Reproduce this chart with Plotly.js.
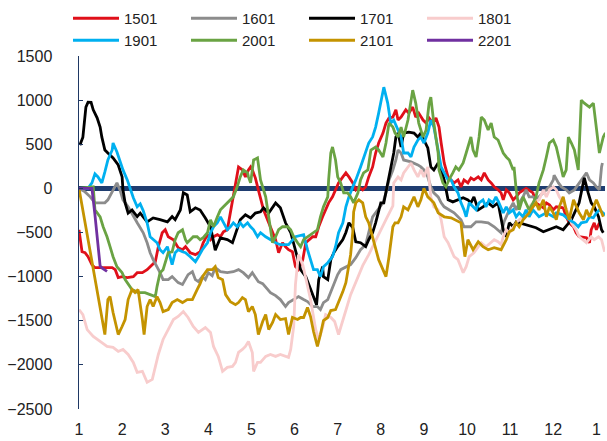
<!DOCTYPE html>
<html>
<head>
<meta charset="utf-8">
<script src="https://cdn.plot.ly/plotly-3.0.1.min.js"></script>
<style>html,body{margin:0;padding:0;background:#fff;}#chart{width:607px;height:441px;}</style>
</head>
<body>
<div id="chart"></div>
<script>
// Month positions (1 = Jan ... 13 = Jan of next year)
const tickVals = [1,2,3,4,5,6,7,8,9,10,11,12,13];
const tickText = ["1","2","3","4","5","6","7","8","9","10","11","12","1"];
const seriesNames = ["1501","1601","1701","1801","1901","2001","2101","2201"];

const x1501 = [1.00,1.02,1.07,1.14,1.21,1.30,1.37,1.49,1.60,1.77,1.84,1.91,2.00,2.12,2.26,2.35,2.47,2.58,2.65,2.77,2.84,2.93,3.00,3.07,3.19,3.30,3.40,3.47,3.58,3.70,3.81,3.88,3.98,4.05,4.12,4.21,4.28,4.35,4.44,4.51,4.58,4.67,4.70,4.79,4.86,4.93,4.98,5.02,5.09,5.16,5.28,5.40,5.49,5.56,5.63,5.72,5.79,5.86,5.95,6.02,6.09,6.19,6.26,6.42,6.49,6.56,6.65,6.72,6.79,6.88,6.95,7.02,7.12,7.19,7.26,7.35,7.42,7.49,7.58,7.65,7.72,7.81,7.88,7.95,8.05,8.12,8.19,8.28,8.35,8.40,8.47,8.58,8.65,8.74,8.81,8.88,8.98,9.05,9.12,9.21,9.28,9.35,9.40,9.47,9.56,9.63,9.70,9.79,9.86,9.93,10.02,10.09,10.16,10.26,10.33,10.40,10.49,10.56,10.63,10.72,10.79,10.84,10.91,10.98,11.07,11.14,11.21,11.37,11.53,11.60,11.77,11.84,11.91,12.00,12.07,12.23,12.30,12.37,12.47,12.53,12.60,12.77,12.84,12.88,12.95,13.00,13.07];
const y1501 = [-470,-548,-718,-729,-774,-864,-898,-898,-898,-898,-921,-1011,-1000,-1011,-1000,-955,-955,-921,-887,-831,-661,-503,-469,-548,-582,-672,-695,-661,-729,-751,-718,-616,-525,-582,-548,-525,-548,-492,-469,-277,-51,175,243,209,130,209,243,209,119,-17,-243,-390,-503,-582,-729,-616,-661,-695,-718,-887,-921,-808,-616,-548,-548,-435,-322,-243,-164,-96,-17,62,130,175,130,62,-17,17,-17,17,130,243,401,514,627,740,797,808,890,774,808,890,853,921,808,853,774,740,797,740,797,695,514,288,130,96,62,96,17,96,62,119,96,130,96,175,96,62,17,-17,-51,-130,-17,-51,-130,-96,-51,0,-51,-164,-220,-164,-186,-243,-209,-220,-322,-390,-435,-503,-548,-559,-616,-469,-390,-469,-390];

const x1601 = [1.00,1.14,1.26,1.37,1.49,1.60,1.67,1.79,1.88,1.95,2.02,2.14,2.26,2.35,2.42,2.49,2.58,2.65,2.72,2.81,2.88,2.95,3.07,3.16,3.23,3.30,3.40,3.47,3.53,3.63,3.70,3.77,3.86,3.93,4.00,4.09,4.16,4.28,4.44,4.58,4.70,4.81,4.93,5.02,5.09,5.16,5.26,5.33,5.44,5.56,5.67,5.79,5.86,5.98,6.09,6.21,6.30,6.42,6.53,6.60,6.67,6.77,6.84,6.91,7.00,7.07,7.19,7.30,7.42,7.53,7.65,7.72,7.81,7.93,8.05,8.12,8.19,8.28,8.35,8.40,8.47,8.53,8.70,8.86,8.93,9.00,9.09,9.16,9.23,9.33,9.40,9.47,9.58,9.70,9.86,9.93,10.09,10.21,10.33,10.49,10.63,10.72,10.79,10.86,10.91,10.98,11.07,11.14,11.21,11.30,11.37,11.44,11.53,11.60,11.67,11.77,11.84,11.91,12.00,12.02,12.12,12.19,12.30,12.37,12.49,12.60,12.70,12.77,12.84,12.93,13.00,13.07,13.12,13.14];
const y1601 = [0,-40,-96,-164,-164,-164,-130,-17,62,-17,-130,-209,-322,-390,-446,-503,-616,-729,-808,-887,-955,-1034,-1034,-1000,-1034,-1068,-1090,-1034,-977,-944,-1034,-1057,-1000,-1034,-955,-990,-898,-944,-955,-944,-921,-955,-1011,-955,-1011,-1057,-1080,-1124,-1181,-1215,-1260,-1339,-1294,-1260,-1226,-1260,-1283,-1339,-1339,-1373,-1294,-1260,-1170,-1090,-977,-921,-887,-864,-785,-695,-638,-492,-322,-243,-164,-51,96,209,322,435,401,322,300,266,243,209,130,17,-51,-96,-164,-209,-243,-277,-356,-435,-435,-379,-379,-390,-435,-469,-503,-379,-322,-243,-164,-243,-164,-96,-17,-96,-96,-130,-96,-51,-17,17,96,150,62,17,-17,-51,-17,62,130,175,96,62,17,-17,243,288];

const x1701 = [1.02,1.09,1.16,1.21,1.28,1.33,1.42,1.49,1.53,1.60,1.67,1.79,1.91,2.00,2.02,2.07,2.14,2.23,2.35,2.42,2.58,2.72,2.88,3.05,3.16,3.23,3.35,3.42,3.51,3.58,3.70,3.81,3.93,4.05,4.16,4.28,4.44,4.56,4.74,4.86,4.98,5.09,5.21,5.28,5.40,5.56,5.67,5.79,5.91,6.02,6.14,6.26,6.37,6.44,6.51,6.56,6.65,6.67,6.77,6.84,6.91,7.00,7.12,7.19,7.26,7.35,7.42,7.53,7.65,7.72,7.81,7.88,8.00,8.07,8.16,8.23,8.30,8.35,8.40,8.47,8.53,8.65,8.77,8.86,8.93,9.00,9.09,9.16,9.23,9.33,9.40,9.47,9.56,9.67,9.79,9.91,10.02,10.09,10.16,10.26,10.37,10.49,10.60,10.72,10.84,10.91,10.98,11.07,11.14,11.21,11.37,11.60,11.77,11.91,12.07,12.23,12.35,12.42,12.60,12.72,12.81,12.88,12.95,13.05,13.12,13.16];
const y1701 = [490,580,920,977,975,890,800,695,580,435,400,345,265,130,-17,-165,-280,-245,-320,-280,-380,-335,-355,-380,-320,-355,-245,-50,-75,-265,-220,-245,-335,-435,-700,-560,-580,-615,-355,-300,-335,-280,-265,-220,-280,-165,-220,-390,-500,-695,-920,-1000,-1150,-1225,-1320,-1035,-887,-1000,-1034,-808,-730,-660,-580,-500,-390,-446,-605,-616,-660,-582,-503,-390,-164,-164,62,209,401,582,627,469,627,638,627,582,627,548,458,243,209,288,209,96,-130,-153,-130,-107,-130,-164,-96,-243,-209,-164,-209,-164,-470,-548,-390,-435,-379,-390,-412,-446,-492,-469,-435,-469,-390,-356,-164,119,-51,-164,-209,-322,-469,-503];

const x1801 = [1.00,1.09,1.19,1.33,1.49,1.65,1.79,1.91,2.02,2.14,2.26,2.35,2.47,2.58,2.70,2.77,2.84,2.95,3.07,3.19,3.30,3.42,3.53,3.65,3.77,3.93,4.05,4.12,4.23,4.33,4.44,4.56,4.63,4.70,4.79,4.86,4.93,5.02,5.05,5.14,5.21,5.33,5.44,5.56,5.67,5.79,5.86,5.91,5.98,6.02,6.09,6.19,6.26,6.37,6.49,6.56,6.65,6.72,6.84,6.93,7.02,7.12,7.21,7.30,7.44,7.58,7.72,7.86,8.00,8.14,8.28,8.30,8.40,8.47,8.53,8.63,8.70,8.77,8.86,8.93,9.00,9.09,9.12,9.16,9.23,9.33,9.40,9.47,9.56,9.63,9.70,9.79,9.86,9.91,9.98,10.05,10.16,10.26,10.33,10.44,10.56,10.63,10.72,10.79,10.84,10.91,10.98,11.07,11.14,11.21,11.30,11.37,11.44,11.53,11.67,11.77,11.84,11.91,12.00,12.07,12.14,12.23,12.35,12.42,12.53,12.60,12.70,12.77,12.88,12.95,13.05,13.12,13.19];
const y1801 = [-1373,-1430,-1600,-1678,-1735,-1791,-1802,-1848,-1825,-1882,-1972,-2085,-2073,-2198,-2164,-2017,-1882,-1712,-1599,-1486,-1452,-1396,-1463,-1565,-1633,-1577,-1633,-1791,-1904,-2073,-2028,-2017,-1972,-1859,-1825,-1791,-1735,-1859,-2073,-1972,-1972,-1904,-1882,-1904,-1882,-1904,-1915,-1825,-1565,-1090,-751,-864,-1034,-1260,-1599,-1712,-1577,-1430,-1463,-1509,-1656,-1509,-1350,-1204,-1034,-876,-751,-605,-469,-333,-198,62,130,96,175,243,288,209,130,209,130,243,96,-96,-209,-243,-356,-548,-616,-695,-774,-808,-887,-955,-887,-774,-729,-661,-616,-661,-616,-582,-605,-638,-548,-469,-503,-435,-390,-356,-322,-277,-209,-164,-130,-17,-96,-17,17,-17,-96,-164,-277,-390,-469,-548,-582,-616,-548,-582,-548,-582,-718];

const x1901 = [1.00,1.21,1.30,1.37,1.44,1.53,1.60,1.67,1.77,1.79,1.88,1.95,2.02,2.12,2.19,2.26,2.35,2.42,2.49,2.58,2.65,2.72,2.81,2.88,2.95,3.05,3.12,3.16,3.23,3.30,3.40,3.47,3.58,3.70,3.77,3.86,3.98,4.05,4.12,4.21,4.28,4.35,4.44,4.51,4.58,4.67,4.74,4.81,4.91,4.98,5.05,5.14,5.21,5.33,5.44,5.56,5.67,5.86,6.02,6.21,6.30,6.37,6.44,6.53,6.60,6.67,6.77,6.88,6.95,7.02,7.12,7.19,7.26,7.35,7.42,7.53,7.65,7.72,7.81,7.88,7.95,8.05,8.07,8.16,8.23,8.30,8.40,8.47,8.53,8.63,8.70,8.77,8.86,8.93,9.00,9.09,9.16,9.23,9.33,9.40,9.47,9.56,9.63,9.70,9.79,9.86,9.93,9.98,10.05,10.14,10.21,10.28,10.37,10.44,10.51,10.60,10.67,10.74,10.84,10.91,10.98,11.07,11.14,11.21,11.30,11.37,11.44,11.53,11.60,11.67,11.84,12.00,12.07,12.23,12.37,12.49,12.58,12.65,12.77,12.84,12.93,13.00,13.07,13.16,13.21];
const y1901 = [0,0,62,165,130,62,186,322,435,514,412,300,209,96,-6,-107,-209,-175,-254,-390,-548,-582,-616,-695,-729,-661,-774,-864,-729,-695,-718,-729,-774,-831,-774,-695,-616,-503,-435,-390,-322,-390,-469,-435,-390,-435,-390,-435,-390,-435,-469,-548,-503,-548,-582,-616,-638,-638,-548,-525,-695,-808,-921,-921,-1000,-887,-842,-774,-661,-503,-390,-209,-96,17,96,243,401,514,582,695,853,1113,1147,966,740,774,661,582,401,401,356,469,548,582,514,627,774,695,435,243,175,96,96,17,-51,-164,-243,-322,-164,-209,-243,-164,-130,-209,-130,-164,-96,-164,-277,-209,-277,-243,-322,-277,-322,-243,-322,-243,-277,-322,-277,-322,-277,-300,-356,-390,-435,-390,-379,-322,-333,-277,-243,-277,-300];

const x2001 = [1.00,1.33,1.37,1.42,1.49,1.56,1.65,1.72,1.79,1.88,2.00,2.07,2.14,2.23,2.37,2.53,2.65,2.77,2.81,2.88,2.95,3.00,3.07,3.16,3.23,3.30,3.40,3.47,3.51,3.58,3.65,3.74,3.81,3.88,3.98,4.05,4.12,4.21,4.28,4.35,4.44,4.51,4.58,4.67,4.74,4.81,4.91,4.93,4.98,5.02,5.05,5.14,5.21,5.33,5.40,5.49,5.56,5.63,5.72,5.84,5.91,5.98,6.07,6.14,6.21,6.30,6.44,6.53,6.60,6.67,6.77,6.79,6.84,6.88,6.95,7.00,7.07,7.14,7.23,7.30,7.37,7.47,7.53,7.60,7.70,7.77,7.88,7.95,8.05,8.12,8.19,8.28,8.33,8.40,8.47,8.53,8.63,8.70,8.74,8.81,8.88,8.98,9.05,9.12,9.16,9.23,9.33,9.35,9.44,9.51,9.58,9.67,9.74,9.81,9.91,9.98,10.05,10.09,10.14,10.21,10.28,10.33,10.40,10.49,10.56,10.63,10.72,10.79,10.84,10.91,10.98,11.07,11.09,11.14,11.19,11.21,11.30,11.37,11.44,11.53,11.60,11.67,11.77,11.84,11.91,12.00,12.07,12.14,12.23,12.30,12.35,12.42,12.49,12.58,12.65,12.72,12.84,12.93,13.00,13.07,13.16,13.21];
const y2001 = [0,17,-243,-277,-322,-435,-548,-661,-774,-887,-955,-1034,-1090,-1147,-1181,-1181,-1204,-1226,-1113,-955,-921,-831,-729,-718,-582,-503,-469,-582,-616,-582,-548,-548,-582,-559,-503,-356,-435,-322,-243,-209,-164,-130,-96,17,130,209,175,130,62,209,322,345,96,-96,-322,-616,-548,-469,-435,-435,-469,-548,-616,-661,-582,-548,-503,-469,-322,-209,-96,96,401,469,322,130,62,-51,-51,-96,-164,-51,96,175,209,435,469,435,356,514,740,695,627,582,695,582,774,966,1113,966,740,582,661,966,1034,740,401,209,62,17,96,175,243,209,288,401,514,582,435,356,582,808,774,661,740,582,548,469,401,356,322,209,243,-17,-164,-243,-96,-164,-243,-164,-96,62,209,356,514,548,469,322,130,209,582,514,435,209,1000,966,921,966,695,401,582,627];

const x2101 = [1.00,1.60,1.67,1.72,1.79,1.91,2.00,2.07,2.14,2.23,2.30,2.37,2.47,2.51,2.58,2.65,2.72,2.81,2.88,2.95,3.07,3.16,3.28,3.40,3.51,3.63,3.74,3.81,3.88,3.98,4.09,4.16,4.23,4.33,4.40,4.51,4.63,4.70,4.79,4.86,4.93,5.02,5.09,5.16,5.26,5.33,5.40,5.49,5.56,5.67,5.79,5.86,5.95,6.07,6.14,6.21,6.30,6.37,6.44,6.53,6.60,6.67,6.77,6.84,6.95,7.02,7.12,7.19,7.23,7.30,7.35,7.37,7.42,7.49,7.58,7.65,7.72,7.81,7.88,7.95,8.05,8.12,8.19,8.28,8.33,8.40,8.47,8.53,8.63,8.70,8.77,8.86,8.93,9.00,9.09,9.16,9.23,9.33,9.47,9.63,9.79,9.86,9.93,9.95,10.02,10.14,10.26,10.37,10.49,10.63,10.79,10.91,10.98,11.07,11.14,11.21,11.30,11.37,11.44,11.53,11.60,11.67,11.77,11.84,11.91,12.00,12.07,12.14,12.23,12.30,12.37,12.47,12.53,12.60,12.70,12.77,12.84,12.93,13.00,13.07,13.16];
const y2101 = [0,-1656,-1260,-1226,-1407,-1656,-1565,-1486,-1260,-1147,-1181,-1147,-1486,-1656,-1339,-1260,-1339,-1226,-1294,-1396,-1373,-1294,-1260,-1294,-1260,-1260,-1147,-1080,-990,-921,-921,-887,-1011,-1034,-1204,-1283,-1317,-1294,-1237,-1260,-1396,-1339,-1430,-1656,-1509,-1430,-1599,-1520,-1430,-1486,-1475,-1656,-1463,-1486,-1463,-1463,-1350,-1452,-1622,-1791,-1656,-1497,-1463,-1384,-1373,-1294,-1170,-1068,-944,-751,-492,-266,-164,-130,-164,-322,-390,-548,-661,-808,-921,-1000,-774,-435,-390,-390,-322,-209,-243,-164,-96,-209,-130,0,-96,-130,-164,-277,-322,-333,-379,-390,-695,-774,-582,-695,-605,-661,-695,-672,-695,-582,-492,-469,-390,-435,-356,-322,-277,-209,-164,-243,-130,-322,-209,-277,-356,-209,-96,-243,-356,-130,-209,-277,-356,-243,-322,-209,-130,-209,-322];

const x2201 = [1.00,1.30,1.37,1.49,1.53,1.65];
const y2201 = [0,0,-300,-880,-900,-940];

const colors = ["#e0101a","#8c8c8c","#000000","#f8cccc","#00b0f0","#6aa343","#c49300","#7030a0"];
const xs = [x1501,x1601,x1701,x1801,x1901,x2001,x2101,x2201];
const ys = [y1501,y1601,y1701,y1801,y1901,y2001,y2101,y2201];

const traces = seriesNames.map((n, i) => ({
  type: "scatter", mode: "lines", name: n,
  x: xs[i], y: ys[i],
  line: {color: colors[i], width: 2.8},
  legend: i < 4 ? "legend" : "legend2",
  hoverinfo: "skip"
}));

const font = {family: "Liberation Sans, Arial, sans-serif", size: 16, color: "#222"};
const legendBase = {
  orientation: "h", x: -0.0209, xanchor: "left", yanchor: "top",
  entrywidth: 57, entrywidthmode: "pixels", itemwidth: 46,
  font: {family: font.family, size: 15, color: "#222"},
  tracegroupgap: 0, traceorder: "normal", bgcolor: "rgba(0,0,0,0)"
};
const layout = {
  width: 607, height: 441,
  margin: {l: 79, r: 2, t: 56, b: 32},
  paper_bgcolor: "#fff", plot_bgcolor: "#fff",
  font: font,
  showlegend: true,
  legend: Object.assign({}, legendBase, {y: 1.153}),
  legend2: Object.assign({}, legendBase, {y: 1.0907}),
  xaxis: {
    range: [1, 13.2], tickvals: tickVals, ticktext: tickText,
    showgrid: false, zeroline: false, showline: false, ticks: "",
    ticklabelstandoff: 9, tickfont: {size: 16}
  },
  yaxis: {
    range: [-2500, 1500], dtick: 500, tick0: 0,
    showgrid: false, showline: true, linecolor: "#1f3864", linewidth: 1.5,
    ticks: "inside", ticklen: 4, tickcolor: "#1f3864", tickwidth: 1,
    zeroline: true, zerolinecolor: "#1f3d70", zerolinewidth: 5,
    ticklabelstandoff: 22, tickfont: {size: 16}
  }
};
Plotly.newPlot("chart", traces, layout, {displayModeBar: false, staticPlot: true});
</script>
</body>
</html>
